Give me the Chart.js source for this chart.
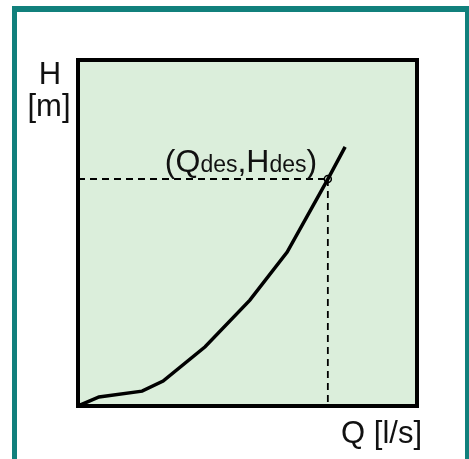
<!DOCTYPE html>
<html>
<head>
<meta charset="utf-8">
<script src="https://cdn.jsdelivr.net/npm/chart.js@4"></script>
<style>
  html, body { margin: 0; padding: 0; background: #fff; }
  #wrap { position: relative; width: 469px; height: 459px; overflow: hidden; }
  #frame { position: absolute; left: 12px; top: 6px; width: 448px; height: 470px;
           border: 5px solid #11807c; border-top-width: 6px; }
  #graph { position: absolute; left: 0; top: 0; }
</style>
</head>
<body>
<div id="wrap">
  <div id="frame"></div>
  <canvas id="graph" width="469" height="459"></canvas>
</div>
<script>
// pump curve (Q, H in arbitrary units 0..10)
const flow = [0, 0.62, 1.89, 2.51, 3.75, 5.07, 6.17, 7.37, 7.88];
const head = [0, 0.26, 0.43, 0.72, 1.71, 3.06, 4.45, 6.56, 7.49];

// design point
const qDes = 7.37;
const hDes = 6.56;

const axisMax = 10;

const green = '#dbeedb';

function toPoints(xs, ys) {
    return xs.map(function (x, i) { return { x: x, y: ys[i] }; });
}

// fill plot area, draw box and labels
const decor = {
    id: 'decor',
    beforeDraw: function (chart) {
        const a = chart.chartArea;
        const ctx = chart.ctx;
        ctx.save();
        ctx.fillStyle = green;
        ctx.fillRect(a.left, a.top, a.right - a.left, a.bottom - a.top);
        ctx.restore();
    },
    afterDraw: function (chart) {
        const a = chart.chartArea;
        const ctx = chart.ctx;
        const xs = chart.scales.x;
        const ys = chart.scales.y;
        ctx.save();
        ctx.strokeStyle = '#000';
        ctx.lineWidth = 4;
        ctx.strokeRect(a.left, a.top, a.right - a.left, a.bottom - a.top);

        const big = '31px "Liberation Sans", Arial, sans-serif';
        const label = '32px "Liberation Sans", Arial, sans-serif';
        const small = '23px "Liberation Sans", Arial, sans-serif';

        ctx.fillStyle = '#111';
        ctx.textBaseline = 'alphabetic';
        ctx.font = big;
        ctx.textAlign = 'center';
        ctx.fillText('H', 50, 84);
        ctx.fillText('[m]', 49, 116);
        ctx.textAlign = 'right';
        ctx.fillText('Q [l/s]', 422, 443);

        // (Qdes,Hdes) label with small "des"
        const px = xs.getPixelForValue(qDes);
        const py = ys.getPixelForValue(hDes);
        const parts = [['(Q', label], ['des', small], [',H', label], ['des', small], [')', label]];
        let x = px - 163;
        const base = py - 7;
        ctx.textAlign = 'left';
        parts.forEach(function (p) {
            ctx.font = p[1];
            ctx.fillText(p[0], x, base);
            x += ctx.measureText(p[0]).width;
        });
        ctx.restore();
    }
};

new Chart(document.getElementById('graph'), {
    type: 'line',
    data: {
        datasets: [
            {
                data: toPoints(flow, head),
                borderColor: '#000',
                borderWidth: 3.5,
                pointRadius: 0,
                tension: 0,
                fill: false
            },
            {
                data: [{ x: 0, y: hDes }, { x: qDes, y: hDes }],
                borderColor: '#000',
                borderWidth: 1.8,
                borderDash: [7, 5],
                pointRadius: 0,
                fill: false
            },
            {
                data: [{ x: qDes, y: hDes }, { x: qDes, y: 0 }],
                borderColor: '#000',
                borderWidth: 1.8,
                borderDash: [7, 5],
                pointRadius: 0,
                fill: false
            },
            {
                data: [{ x: qDes, y: hDes }],
                showLine: false,
                pointRadius: 3.5,
                pointBorderWidth: 1.5,
                pointBorderColor: '#000',
                pointBackgroundColor: green
            }
        ]
    },
    options: {
        responsive: false,
        animation: false,
        layout: { padding: { left: 78, top: 60, right: 52, bottom: 53 } },
        plugins: { legend: { display: false }, tooltip: { enabled: false } },
        scales: {
            x: { type: 'linear', min: 0, max: axisMax, display: false },
            y: { type: 'linear', min: 0, max: axisMax, display: false }
        }
    },
    plugins: [decor]
});
</script>
</body>
</html>
